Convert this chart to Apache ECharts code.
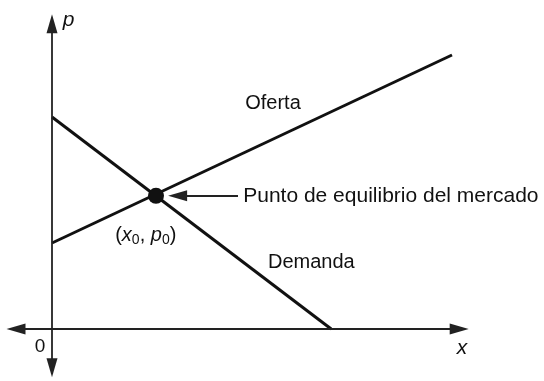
<!DOCTYPE html>
<html>
<head>
<meta charset="utf-8">
<script src="https://cdn.jsdelivr.net/npm/echarts@6/dist/echarts.min.js"></script>
<style>
  html, body { margin: 0; padding: 0; background: #fff; }
  #chart { width: 544px; height: 381px; }
</style>
</head>
<body>
<div id="chart"></div>
<script>
// Oferta y demanda: extremos de cada recta (x, p)
const oferta = [[0, 2.15], [10, 6.85]];
const demanda = [[0, 5.3], [6.98, 0]];
const equilibrio = [2.6, 3.33];

// Ejes (centro de cada punta de flecha)
const ejeX = [[-0.9, 0], [10.18, 0]];
const ejeP = [[0, -0.97], [0, 7.63]];

// Textos
const etiquetas = [
    { name: 'Oferta', value: [4.83, 5.63] },
    { name: 'Demanda', value: [5.4, 1.67] },
];
const etiquetaPunto = [{ name: 'Punto de equilibrio del mercado', value: [4.78, 3.33] }];
const etiquetaEq = [{ name: 'eq', value: [1.58, 2.35] }];
const flechaPunto = [[4.65, 3.33], [3.14, 3.33]];

const font = '"Liberation Sans", Arial, Helvetica, sans-serif';
const ink = '#111';

const chart = echarts.init(document.getElementById('chart'), null, { renderer: 'canvas' });

const axisLine = (pts) => ({
    silent: true,
    symbol: ['triangle', 'triangle'],
    symbolSize: [11, 19],
    lineStyle: { color: '#222', width: 1.8, type: 'solid' },
    itemStyle: { color: '#222' },
    label: { show: false },
    data: [[{ coord: pts[0] }, { coord: pts[1] }]],
});

const textLabel = (size, style) => ({
    show: true, position: 'inside', align: 'left', verticalAlign: 'middle',
    formatter: '{b}', color: ink, fontFamily: font, fontSize: size, fontStyle: style || 'normal',
});

const textSeries = (data, label) => ({
    type: 'scatter', symbolSize: 0, silent: true,
    itemStyle: { opacity: 1 },
    data: data,
    label: label,
});

chart.setOption({
    animation: false,
    grid: { left: 4, right: 68, top: 9, bottom: 0 },
    xAxis: { type: 'value', min: -1.2, max: 10.6, show: false },
    yAxis: { type: 'value', min: -1.3, max: 8, show: false },
    series: [
        { type: 'line', data: [], silent: true, markLine: axisLine(ejeX) },
        { type: 'line', data: [], silent: true, markLine: axisLine(ejeP) },
        {
            name: 'Oferta', type: 'line', data: oferta, symbol: 'none',
            lineStyle: { color: ink, width: 3 },
        },
        {
            name: 'Demanda', type: 'line', data: demanda, symbol: 'none',
            lineStyle: { color: ink, width: 3 },
        },
        {
            type: 'line', data: [], silent: true,
            markLine: {
                symbol: ['none', 'triangle'],
                symbolSize: [11, 19],
                lineStyle: { color: '#222', width: 1.8, type: 'solid' },
                itemStyle: { color: '#222' },
                label: { show: false },
                data: [[{ coord: flechaPunto[0] }, { coord: flechaPunto[1] }]],
            },
        },
        {
            type: 'scatter', data: [equilibrio], symbolSize: 16,
            itemStyle: { color: ink, opacity: 1 },
            z: 5,
        },
        textSeries(etiquetaEq, {
            show: true, position: 'inside', align: 'left', verticalAlign: 'middle',
            formatter: '({i|x}{s|0}, {i|p}{s|0})',
            color: ink, fontFamily: font, fontSize: 20,
            rich: {
                i: { fontStyle: 'italic', fontSize: 20, fontFamily: font, color: ink },
                s: { fontSize: 14, fontFamily: font, color: ink, padding: [10, 0, 0, 0] },
            },
        }),
        textSeries(etiquetas, textLabel(20)),
        textSeries(etiquetaPunto, textLabel(21)),
        textSeries([
            { name: 'p', value: [0.27, 7.72] },
            { name: 'x', value: [10.12, -0.48] },
        ], textLabel(21, 'italic')),
        textSeries([{ name: '0', value: [-0.43, -0.45] }], textLabel(19)),
    ],
});
</script>
</body>
</html>
